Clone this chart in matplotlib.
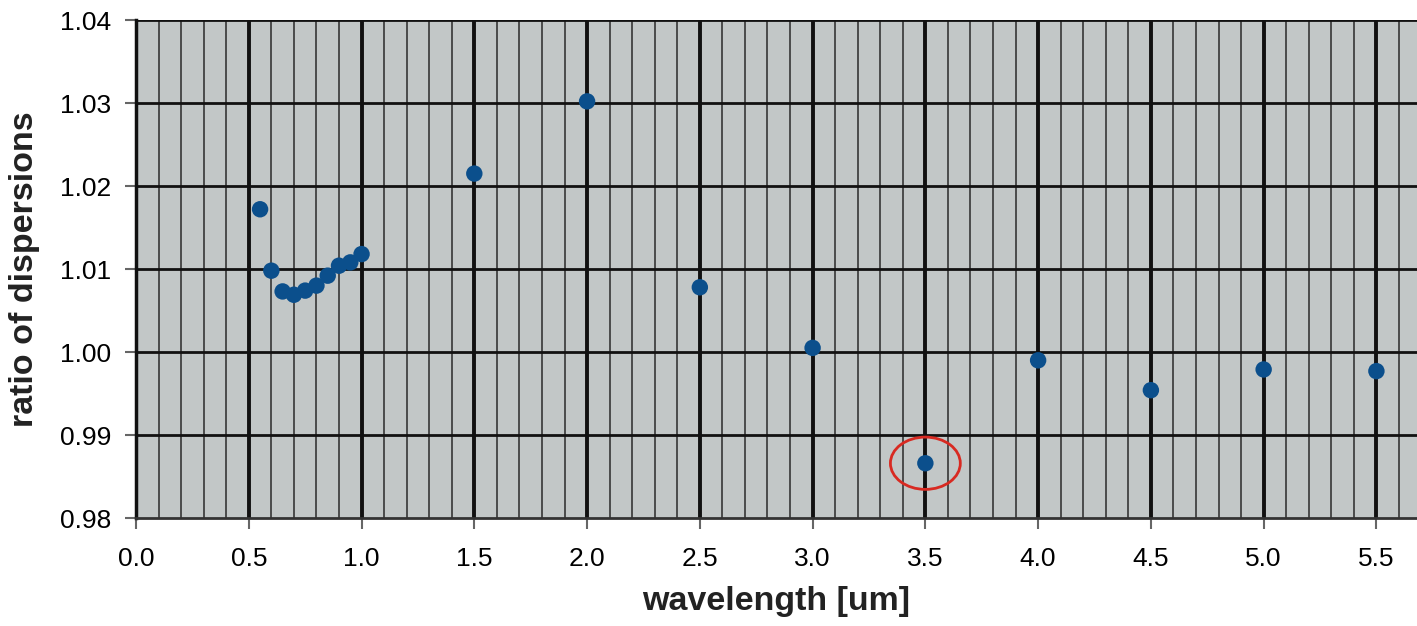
import matplotlib
matplotlib.use("Agg")
import matplotlib.pyplot as plt
import numpy as np
from matplotlib.patches import Ellipse

# wavelength [um] and ratio of dispersions
wavelength = [0.55, 0.60, 0.65, 0.70, 0.75, 0.80, 0.85, 0.90, 0.95, 1.00,
              1.5, 2.0, 2.5, 3.0, 3.5, 4.0, 4.5, 5.0, 5.5]
ratio = [1.0172, 1.0098, 1.0073, 1.0069, 1.0074, 1.0080, 1.0092, 1.0104, 1.0108, 1.0118,
         1.0215, 1.0302, 1.0078, 1.0005, 0.9866, 0.9990, 0.9954, 0.9979, 0.9977]
highlight = 3.5  # point circled in red

x_ticks = np.arange(0.0, 5.51, 0.5)
y_ticks = np.arange(0.98, 1.0401, 0.01)

plt.rcParams.update({
    'font.family': 'Liberation Sans',
})

fig = plt.figure(figsize=(14.17, 6.26), dpi=100)
ax = fig.add_axes([0.096, 0.1725, 0.904, 0.7955])

ax.set_facecolor('#c2c7c7')
ax.set_xlim(0.0, 5.68)
ax.set_ylim(0.98, 1.04)

# vertical grid: every 0.1, heavier every 0.5
for xv in np.arange(0.1, 5.65, 0.1):
    major = abs(xv / 0.5 - round(xv / 0.5)) < 1e-6
    ax.axvline(xv, color='#111111' if major else '#2a2a2a', lw=2.8 if major else 1.1, zorder=1)
for yv in y_ticks[1:]:
    ax.axhline(yv, color='#111111', lw=2.0, zorder=1)

ax.scatter(wavelength, ratio, s=140, color='#0b4f8c', edgecolors='none', zorder=3)

i = wavelength.index(highlight)
ax.add_patch(Ellipse((wavelength[i], ratio[i]), 0.31, 0.0063, fill=False,
                     edgecolor='#d82a22', lw=2.0, zorder=4))

ax.set_xticks(x_ticks)
ax.set_xticklabels([f"{v:.1f}" for v in x_ticks])
ax.set_yticks(y_ticks)
ax.set_yticklabels([f"{v:.2f}" for v in y_ticks])
ax.tick_params(axis='x', labelsize=19, length=8, width=1.5, color='#666666', pad=13)
ax.tick_params(axis='y', labelsize=19, length=8, width=1.5, color='#666666', pad=10)

for side in ['top', 'right']:
    ax.spines[side].set_visible(False)
ax.spines['left'].set_color('#111111')
ax.spines['left'].set_linewidth(2.5)
ax.spines['bottom'].set_color('#333333')
ax.spines['bottom'].set_linewidth(2.0)

ax.set_xlabel('wavelength [um]', fontsize=24.5, fontweight='bold', color='#222222', labelpad=11)
ax.set_ylabel('ratio of dispersions', fontsize=24.5, fontweight='bold', color='#222222', labelpad=14)

plt.savefig("out.png", dpi=100)
